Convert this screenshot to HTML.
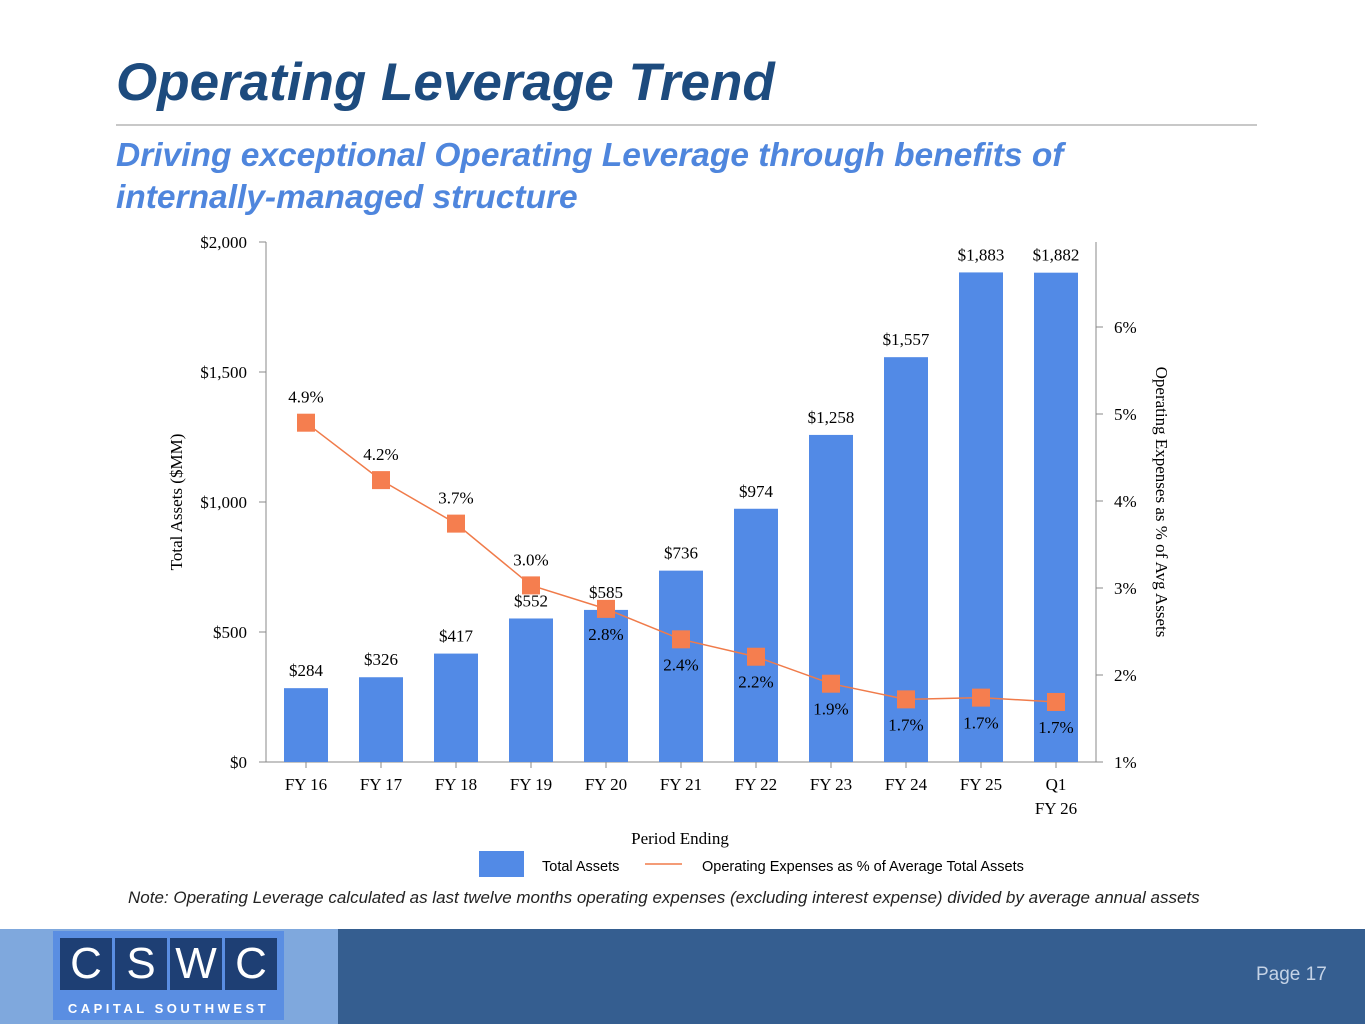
<!DOCTYPE html>
<html><head><meta charset="utf-8"><style>
body{margin:0;width:1365px;height:1024px;position:relative;background:#fff;font-family:"Liberation Sans",sans-serif;overflow:hidden}
.abs{position:absolute}
</style></head><body>
<div class="abs" style="left:116px;top:52px;font-size:53px;font-weight:bold;font-style:italic;color:#1d4b7e">Operating Leverage Trend</div>
<div class="abs" style="left:116px;top:124px;width:1141px;height:2px;background:#c8c8c8"></div>
<div class="abs" style="left:116px;top:135px;font-size:33.5px;line-height:42px;font-weight:bold;font-style:italic;color:#4f86dd">Driving exceptional Operating Leverage through benefits of<br>internally-managed structure</div>
<svg class="abs" style="left:0;top:0" width="1365" height="920">
<g id="g" font-family="Liberation Serif, serif" font-size="17"></g>
</svg>
<div class="abs" style="left:128px;top:888px;font-size:17px;font-style:italic;color:#222;white-space:nowrap">Note: Operating Leverage calculated as last twelve months operating expenses (excluding interest expense) divided by average annual assets</div>
<div class="abs" style="left:0;top:929px;width:338px;height:95px;background:#7fa8dd"></div>
<div class="abs" style="left:338px;top:929px;width:1027px;height:95px;background:#355e90"></div>
<div class="abs" style="left:53px;top:931px;width:231px;height:89px;background:#5a8ee2"></div>
<div class="abs" style="left:60px;top:938px;width:52px;height:52px;background:#1e3f74;color:#fff;font-size:44px;text-align:center;line-height:52px">C</div>
<div class="abs" style="left:115px;top:938px;width:52px;height:52px;background:#1e3f74;color:#fff;font-size:44px;text-align:center;line-height:52px">S</div>
<div class="abs" style="left:170px;top:938px;width:52px;height:52px;background:#1e3f74;color:#fff;font-size:44px;text-align:center;line-height:52px">W</div>
<div class="abs" style="left:225px;top:938px;width:52px;height:52px;background:#1e3f74;color:#fff;font-size:44px;text-align:center;line-height:52px">C</div>
<div class="abs" style="left:53px;top:1001px;width:231px;text-align:center;color:#fff;font-size:13px;font-weight:bold;letter-spacing:3.5px">CAPITAL SOUTHWEST</div>
<div class="abs" style="left:1256px;top:964px;color:#c5d3e6;font-size:19px">Page 17</div>
<script>
const categories=["FY 16","FY 17","FY 18","FY 19","FY 20","FY 21","FY 22","FY 23","FY 24","FY 25","Q1|FY 26"];
const assets=[284,326,417,552,585,736,974,1258,1557,1883,1882];
const opexPct=[4.9,4.24,3.74,3.03,2.76,2.41,2.21,1.9,1.72,1.74,1.69];
const pctLabels=["4.9%","4.2%","3.7%","3.0%","2.8%","2.4%","2.2%","1.9%","1.7%","1.7%","1.7%"];
const leftTicks=[0,500,1000,1500,2000];
const rightTicks=[1,2,3,4,5,6];
const NS="http://www.w3.org/2000/svg",g=document.getElementById('g');
const yL=v=>762-v*0.26, yR=v=>762-(v-1)*87, xC=i=>306+i*75;
function el(t,a,txt){const e=document.createElementNS(NS,t);for(const k in a)e.setAttribute(k,a[k]);if(txt!=null)e.textContent=txt;g.appendChild(e);return e;}
let e;
e=el('line',{x1:266,y1:242,x2:266,y2:762,stroke:'#888'});


e=el('line',{x1:1096,y1:242,x2:1096,y2:762,stroke:'#888'});


e=el('line',{x1:266,y1:762,x2:1096,y2:762,stroke:'#888'});


leftTicks.forEach(v=>{
 el('line',{x1:259,y1:yL(v),x2:266,y2:yL(v),stroke:'#888'});
 e=el('text',{x:247,y:yL(v)+6,'text-anchor':'end'},'$'+v.toLocaleString('en-US'));
 
 
});
rightTicks.forEach(v=>{
 el('line',{x1:1096,y1:yR(v),x2:1103,y2:yR(v),stroke:'#888'});
 e=el('text',{x:1114,y:yR(v)+6},v+'%');
 
 
});
categories.forEach((c,i)=>{
 const x=xC(i);
 el('line',{x1:x,y1:762,x2:x,y2:768,stroke:'#888'});
 c.split('|').forEach((p,j)=>{
  e=el('text',{x:x,y:790+j*24,'text-anchor':'middle'},p);
  
  
 });
 e=el('rect',{x:x-22,y:yL(assets[i]),width:44,height:762-yL(assets[i]),fill:'#528ae6'});
 
 
 e=el('text',{x:x,y:yL(assets[i])-12,'text-anchor':'middle'},'$'+assets[i].toLocaleString('en-US'));
 
 
});
e=el('polyline',{points:opexPct.map((v,i)=>xC(i)+','+yR(v)).join(' '),fill:'none',stroke:'#f07b4a','stroke-width':1.5});


opexPct.forEach((v,i)=>{
 e=el('rect',{x:xC(i)-9,y:yR(v)-9,width:18,height:18,fill:'#f57e4f'});
 
 
 e=el('text',{x:xC(i),y:i<4?yR(v)-20:yR(v)+31,'text-anchor':'middle'},pctLabels[i]);
 
 
});
e=el('text',{x:0,y:0,'text-anchor':'middle',transform:'translate(182,502) rotate(-90)'},'Total Assets ($MM)');


e=el('text',{x:0,y:0,'text-anchor':'middle',transform:'translate(1156,502) rotate(90)'},'Operating Expenses as % of Avg Assets');


e=el('text',{x:680,y:844,'text-anchor':'middle'},'Period Ending');


e=el('rect',{x:479,y:851,width:45,height:26,fill:'#528ae6'});


e=el('text',{x:542,y:871,'font-family':'Liberation Sans, sans-serif','font-size':14.5},'Total Assets');


e=el('line',{x1:645,y1:864,x2:682,y2:864,stroke:'#f07b4a','stroke-width':1.5});


e=el('text',{x:702,y:871,'font-family':'Liberation Sans, sans-serif','font-size':14.5},'Operating Expenses as % of Average Total Assets');


</script>
</body></html>
